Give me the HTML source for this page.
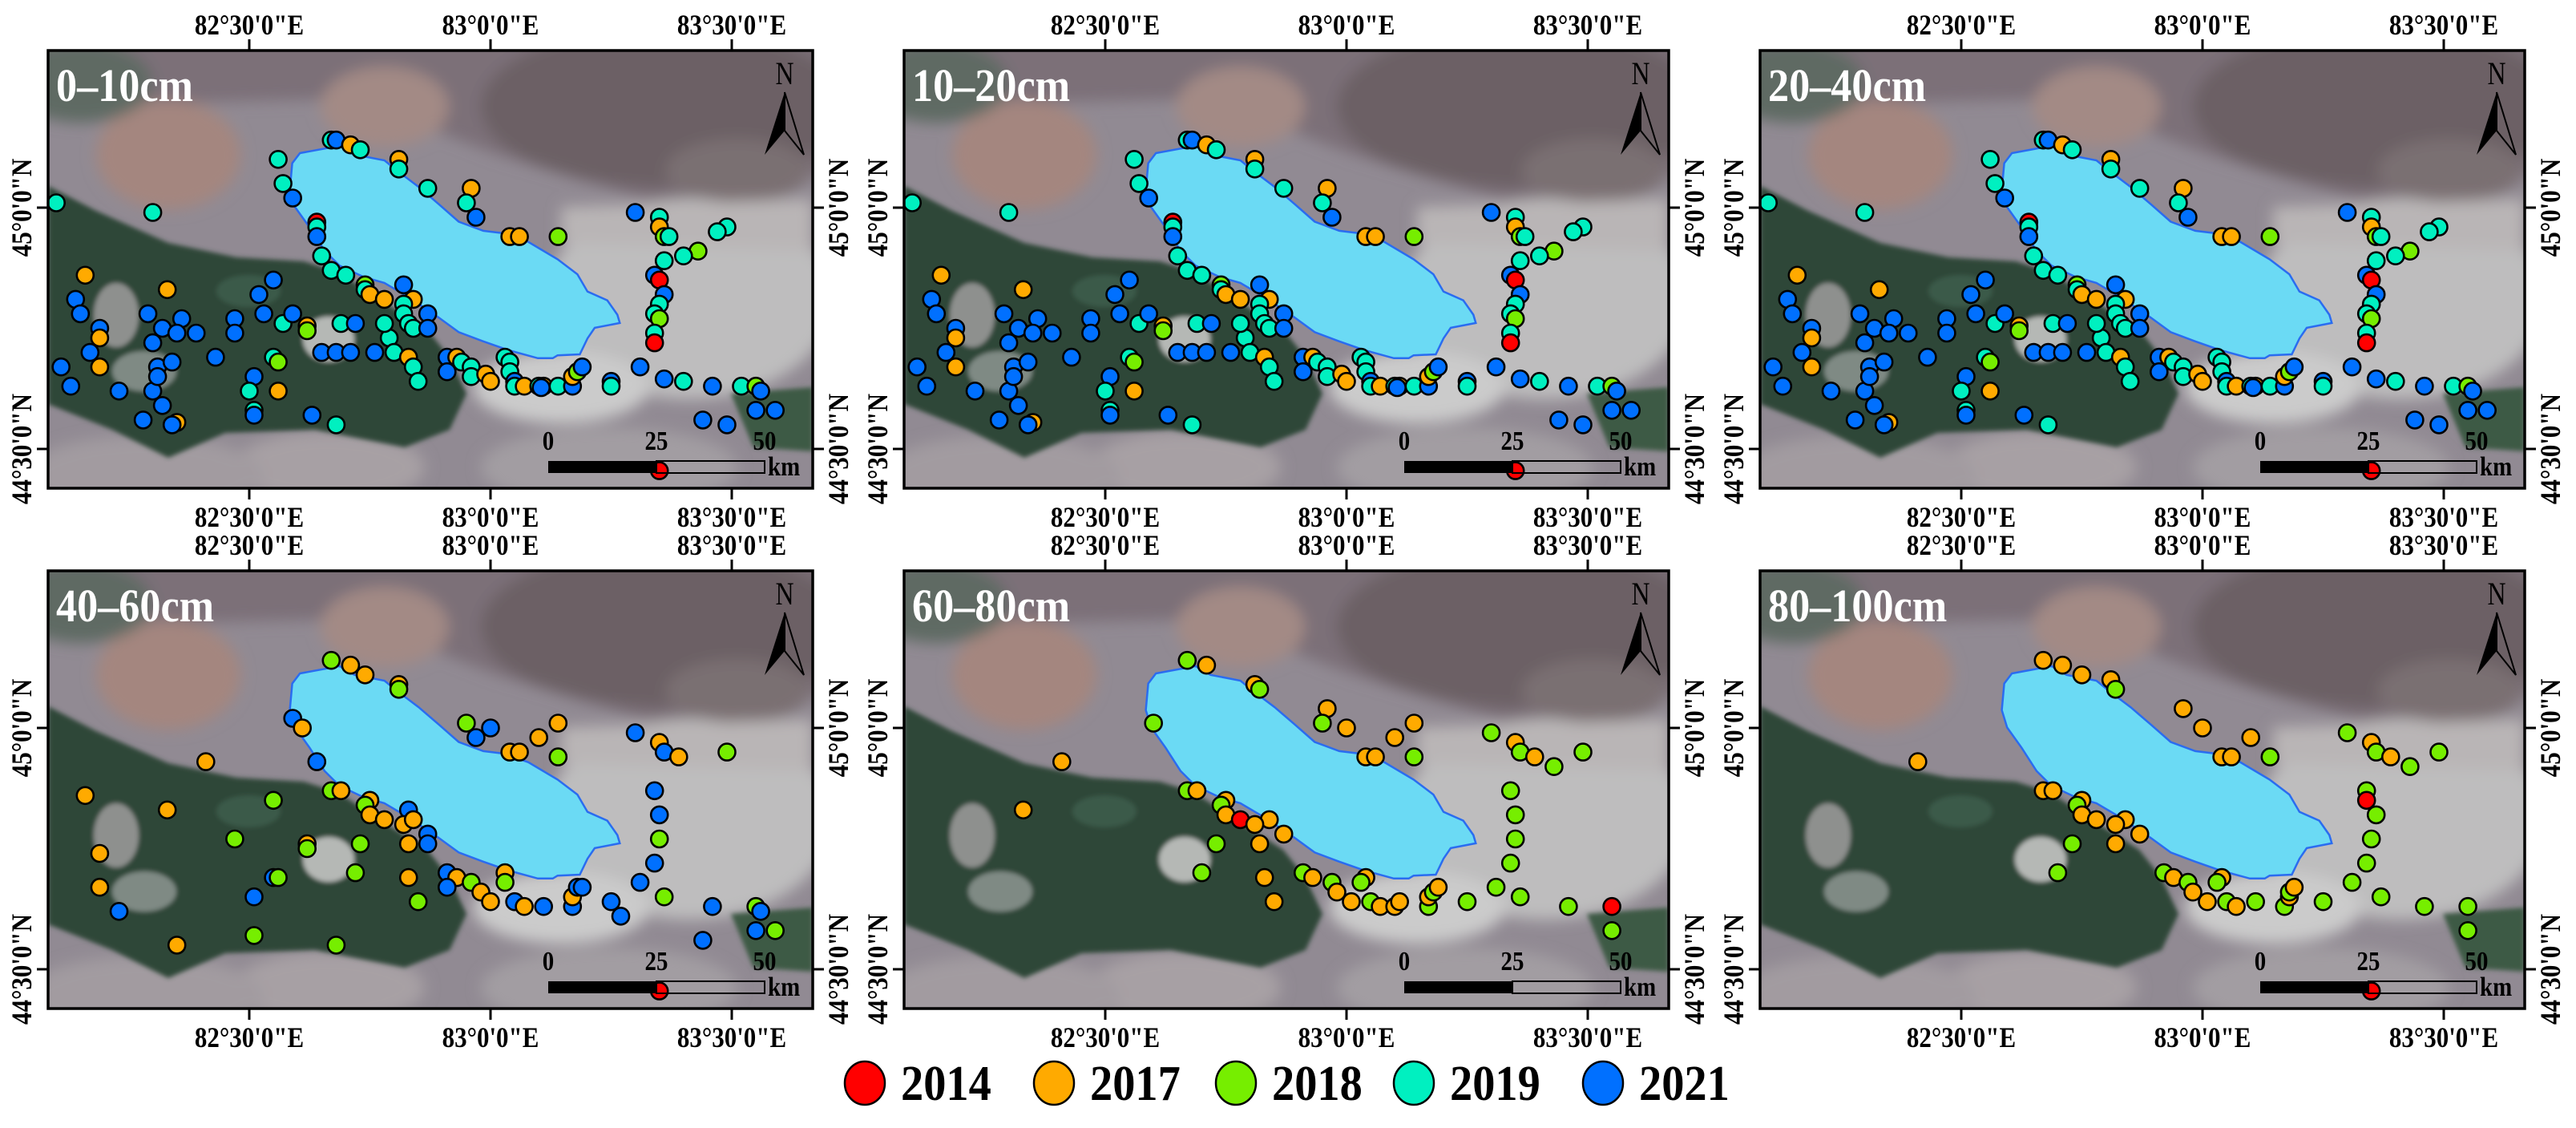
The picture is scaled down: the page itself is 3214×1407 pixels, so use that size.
<!DOCTYPE html>
<html>
<head>
<meta charset="utf-8">
<style>
  html,body{margin:0;padding:0;background:#fff;}
  body{width:3214px;height:1407px;overflow:hidden;position:relative;font-family:"Liberation Serif",serif;}
  svg{position:absolute;left:0;top:0;}
  text{font-family:"Liberation Serif",serif;font-weight:bold;}
</style>
</head>
<body>
<svg id="fig" width="3214" height="1407" viewBox="0 0 3214 1407" xmlns="http://www.w3.org/2000/svg">
  <defs>
    <filter id="soft" x="-10%" y="-10%" width="120%" height="120%"><feGaussianBlur stdDeviation="9"/></filter>
    <filter id="soft2" x="-10%" y="-10%" width="120%" height="120%"><feGaussianBlur stdDeviation="3"/></filter>
  </defs>
  <g id="panels"></g>
  <g id="legend"></g>
</svg>
<script>
// ---- chart data (lon, lat, sampling year) ----
const panelTitles = ["0–10cm","10–20cm","20–40cm","40–60cm","60–80cm","80–100cm"];
const legendYears = [2014, 2017, 2018, 2019, 2021];
const lonTicks = [82.5, 83.0, 83.5];
const lonTickLabels = ["82°30'0\"E","83°0'0\"E","83°30'0\"E"];
const latTicks = [45.0, 44.5];
const latTickLabels = ["45°0'0\"N","44°30'0\"N"];
const scaleLabels = ["0","25","50"];

const topPts = [
 [82.67,45.14,2019],[82.68,45.14,2021],[82.71,45.13,2017],[82.73,45.12,2019],[82.56,45.10,2019],[82.81,45.10,2017],
 [82.81,45.08,2019],[82.57,45.05,2019],[82.87,45.04,2019],[82.96,45.04,2017],[82.95,45.01,2019],[82.59,45.02,2021],
 [82.97,44.98,2021],[82.64,44.97,2014],[82.64,44.96,2019],[82.64,44.94,2021],[83.04,44.94,2017],[83.06,44.94,2017],
 [83.14,44.94,2018],[82.65,44.90,2019],[82.67,44.87,2019],[82.70,44.86,2019],[82.74,44.84,2018],[82.74,44.83,2019],
 [82.75,44.82,2017],[82.78,44.81,2017],[82.82,44.84,2021],[82.84,44.81,2017],[82.82,44.80,2019],[82.82,44.78,2019],
 [82.87,44.78,2021],[82.83,44.76,2019],[82.84,44.75,2019],[82.87,44.75,2021],[82.79,44.73,2019],[82.78,44.76,2019],
 [82.69,44.76,2019],[82.72,44.76,2021],[82.57,44.76,2019],[82.62,44.755,2017],[82.62,44.745,2018],
 [83.30,44.99,2021],[83.35,44.98,2019],[83.35,44.96,2017],[83.36,44.94,2018],[83.37,44.94,2019],[83.49,44.96,2019],
 [83.47,44.95,2019],[83.43,44.91,2018],[83.40,44.90,2019],[83.36,44.89,2019],[83.34,44.86,2021],[83.35,44.85,2014],
 [83.36,44.82,2021],[83.35,44.80,2019],[83.34,44.78,2019],[83.35,44.77,2018],[83.34,44.74,2019],[83.34,44.72,2014],
 [82.10,45.01,2019],[82.30,44.99,2019],
 [82.16,44.86,2017],[82.33,44.83,2017],[82.55,44.85,2021],[82.52,44.82,2021],[82.14,44.81,2021],[82.15,44.78,2021],
 [82.29,44.78,2021],[82.36,44.77,2021],[82.32,44.75,2021],[82.35,44.74,2021],[82.39,44.74,2021],[82.47,44.77,2021],
 [82.47,44.74,2021],[82.53,44.78,2021],[82.59,44.78,2021],[82.19,44.75,2021],[82.19,44.73,2017],[82.17,44.70,2021],
 [82.30,44.72,2021],[82.43,44.69,2021],[82.65,44.70,2021],[82.68,44.70,2021],[82.71,44.70,2021],[82.76,44.70,2021],
 [82.80,44.70,2019],[82.83,44.69,2017],[82.55,44.69,2019],[82.56,44.68,2018],[82.31,44.67,2021],[82.34,44.68,2021],
 [82.11,44.67,2021],[82.19,44.67,2017],[82.84,44.67,2019],[82.85,44.64,2019],[82.51,44.65,2021],[82.50,44.62,2019],
 [82.56,44.62,2017],[82.13,44.63,2021],[82.23,44.62,2021],[82.30,44.62,2021],[82.31,44.65,2021],[82.32,44.59,2021],
 [82.51,44.58,2019],[82.51,44.57,2021],[82.63,44.57,2021],[82.68,44.55,2019],[82.28,44.56,2021],[82.35,44.555,2017],[82.34,44.55,2021],
 [82.91,44.69,2021],[82.91,44.66,2021],[82.93,44.69,2017],[82.94,44.68,2019],[82.96,44.67,2019],[82.96,44.65,2019],
 [82.99,44.655,2017],[83.00,44.64,2017],[83.03,44.69,2019],[83.04,44.68,2019],[83.04,44.66,2019],[83.05,44.64,2021],
 [83.05,44.63,2019],[83.07,44.63,2017],[83.10,44.63,2019],[83.11,44.63,2017],[83.105,44.627,2021],[83.14,44.63,2019],
 [83.17,44.63,2021],[83.17,44.65,2017],[83.18,44.66,2018],[83.19,44.67,2021],[83.25,44.64,2021],[83.25,44.63,2019],
 [83.31,44.67,2021],[83.36,44.645,2021],[83.40,44.64,2019],[83.46,44.63,2021],[83.52,44.63,2019],[83.55,44.63,2018],
 [83.56,44.62,2021],[83.55,44.58,2021],[83.59,44.58,2021],[83.44,44.56,2021],[83.49,44.55,2021],[83.35,44.455,2014]
];

const pts4060 = [
 [82.67,45.14,2018],[82.71,45.13,2017],[82.74,45.11,2017],[82.81,45.09,2017],[82.81,45.08,2018],[82.59,45.02,2021],
 [82.61,45.00,2017],[82.95,45.01,2018],[83.00,45.00,2021],[82.97,44.98,2021],[83.10,44.98,2017],[83.14,45.01,2017],
 [83.04,44.95,2017],[83.06,44.95,2017],[83.14,44.94,2018],[83.30,44.99,2021],[83.35,44.97,2017],[83.36,44.95,2021],
 [83.39,44.94,2017],[83.49,44.95,2018],[82.41,44.93,2017],[82.64,44.93,2021],[82.67,44.87,2018],[82.69,44.87,2017],
 [82.75,44.85,2017],[82.74,44.84,2018],[82.75,44.82,2017],[82.78,44.81,2017],[82.83,44.83,2021],[82.82,44.80,2017],
 [82.84,44.81,2017],[82.83,44.76,2017],[82.87,44.78,2021],[82.87,44.76,2021],[82.16,44.86,2017],[82.33,44.83,2017],
 [82.55,44.85,2018],[82.47,44.77,2018],[82.62,44.76,2017],[82.62,44.75,2018],[82.73,44.76,2018],[82.19,44.74,2017],
 [82.19,44.67,2017],[82.72,44.70,2018],[82.55,44.69,2021],[82.56,44.69,2018],[82.83,44.69,2017],[82.51,44.65,2021],
 [82.23,44.62,2021],[82.85,44.64,2018],[82.35,44.55,2017],[82.51,44.57,2018],[82.68,44.55,2018],
 [83.34,44.87,2021],[83.35,44.82,2021],[83.35,44.77,2018],[83.34,44.72,2021],[83.31,44.68,2021],[83.36,44.65,2018],
 [82.91,44.70,2021],[82.93,44.69,2017],[82.91,44.67,2021],[82.96,44.68,2018],[82.98,44.66,2017],[83.00,44.64,2017],
 [83.03,44.70,2017],[83.03,44.68,2018],[83.05,44.64,2021],[83.07,44.63,2017],[83.11,44.63,2021],[83.17,44.63,2021],
 [83.17,44.65,2017],[83.18,44.67,2021],[83.19,44.67,2021],[83.25,44.64,2021],[83.27,44.61,2021],[83.46,44.63,2021],
 [83.55,44.63,2018],[83.56,44.62,2021],[83.55,44.58,2021],[83.59,44.58,2018],[83.44,44.56,2021],[83.35,44.455,2014]
];

const pts6080 = [
 [82.67,45.14,2018],[82.71,45.13,2017],[82.81,45.09,2017],[82.82,45.08,2018],[82.60,45.01,2018],[82.96,45.04,2017],
 [82.95,45.01,2018],[83.00,45.00,2017],[83.14,45.01,2017],[83.10,44.98,2017],[83.04,44.94,2017],[83.06,44.94,2017],
 [83.14,44.94,2018],[83.30,44.99,2018],[83.35,44.97,2017],[83.36,44.95,2018],[83.39,44.94,2017],[83.49,44.95,2018],
 [83.43,44.92,2018],[82.41,44.93,2017],[82.67,44.87,2018],[82.69,44.87,2017],[82.75,44.85,2017],[82.74,44.84,2018],
 [82.75,44.82,2017],[82.78,44.81,2014],[82.84,44.81,2017],[82.81,44.80,2017],[82.87,44.78,2017],[82.82,44.76,2017],
 [82.33,44.83,2017],[82.73,44.76,2018],[82.70,44.70,2018],[82.83,44.69,2017],[82.85,44.64,2017],[82.91,44.70,2018],
 [82.93,44.69,2017],[82.97,44.68,2018],[82.98,44.66,2017],[83.01,44.64,2017],[83.04,44.69,2017],[83.03,44.68,2018],
 [83.05,44.64,2018],[83.07,44.63,2017],[83.10,44.63,2017],[83.11,44.64,2017],[83.17,44.63,2018],[83.17,44.65,2017],
 [83.18,44.66,2018],[83.19,44.67,2017],[83.25,44.64,2018],[83.34,44.87,2018],[83.35,44.82,2018],[83.35,44.77,2018],
 [83.34,44.72,2018],[83.31,44.67,2018],[83.36,44.65,2018],[83.46,44.63,2018],[83.55,44.63,2014],[83.55,44.58,2018]
];

const pts80100 = [
 [82.67,45.14,2017],[82.71,45.13,2017],[82.75,45.11,2017],[82.81,45.10,2017],[82.82,45.08,2018],[82.96,45.04,2017],
 [83.00,45.00,2017],[83.10,44.98,2017],[83.04,44.94,2017],[83.06,44.94,2017],[83.14,44.94,2018],[83.30,44.99,2018],
 [83.35,44.97,2017],[83.36,44.95,2018],[83.39,44.94,2017],[83.49,44.95,2018],[83.43,44.92,2018],[82.41,44.93,2017],
 [82.67,44.87,2017],[82.69,44.87,2017],[82.75,44.85,2017],[82.74,44.84,2018],[82.75,44.82,2017],[82.78,44.81,2017],
 [82.84,44.81,2017],[82.82,44.80,2017],[82.87,44.78,2017],[82.82,44.76,2017],[82.73,44.76,2018],[82.70,44.70,2018],
 [82.92,44.70,2018],[82.94,44.69,2017],[82.97,44.68,2018],[82.98,44.66,2017],[83.01,44.64,2017],[83.04,44.69,2017],
 [83.03,44.68,2018],[83.05,44.64,2018],[83.07,44.63,2017],[83.11,44.64,2018],[83.17,44.63,2018],[83.18,44.65,2017],
 [83.18,44.66,2018],[83.19,44.67,2017],[83.25,44.64,2018],[83.34,44.87,2018],[83.34,44.85,2014],[83.36,44.82,2018],
 [83.35,44.77,2018],[83.34,44.72,2018],[83.31,44.68,2018],[83.37,44.65,2018],[83.46,44.63,2018],[83.55,44.63,2018],
 [83.55,44.58,2018],[83.35,44.455,2014]
];

const panelPoints = [topPts, topPts, topPts, pts4060, pts6080, pts80100];

const lakeOutline = [
 [82.605,45.113],[82.687,45.128],[82.718,45.110],[82.780,45.098],[82.810,45.074],[82.851,45.043],[82.893,45.007],
 [82.934,44.971],[82.985,44.952],[83.026,44.947],[83.078,44.929],[83.139,44.893],[83.180,44.862],[83.201,44.826],
 [83.242,44.808],[83.263,44.778],[83.268,44.761],[83.216,44.751],[83.201,44.729],[83.185,44.696],[83.139,44.694],
 [83.129,44.688],[83.098,44.688],[83.036,44.705],[82.985,44.723],[82.934,44.742],[82.893,44.772],[82.831,44.814],
 [82.780,44.844],[82.738,44.856],[82.687,44.880],[82.656,44.911],[82.625,44.959],[82.595,45.001],[82.584,45.037],[82.589,45.092]
];

// ---- layout ----
const NS = "http://www.w3.org/2000/svg";
const PW = 954, PH = 546;
const origins = [[60,63],[1128,63],[2196,63],[60,712],[1128,712],[2196,712]];
const yearColor = {2014:"#ff0000",2017:"#ffaa00",2018:"#76ee00",2019:"#00f0c0",2021:"#0070ff"};
const DEG = 602;
function xScale(lon){ return 251 + (lon - 82.5) * DEG; }
function yScale(lat){ return 196 - (lat - 45.0) * DEG; }

function mk(tag, attrs, parent){
  const e = document.createElementNS(NS, tag);
  for (const k in attrs) e.setAttribute(k, attrs[k]);
  if (parent) parent.appendChild(e);
  return e;
}
// condensed text: placed at (x,y), optional rotation, horizontal squeeze sx
function ctext(parent, str, x, y, size, anchor, sx, rot, fill){
  const tr = "translate(" + x + "," + y + ")" + (rot ? " rotate(" + rot + ")" : "") + " scale(" + sx + ",1)";
  const t = mk("text", {x:0, y:0, "text-anchor":anchor, "font-size":size, fill:fill || "#000", transform:tr}, parent);
  t.textContent = str;
  return t;
}

const panelsG = document.getElementById("panels");

function drawBackground(g, idx){
  const clipId = "clip" + idx;
  const cp = mk("clipPath", {id: clipId}, g);
  mk("rect", {x:0, y:0, width:PW, height:PH}, cp);
  const bg = mk("g", {"clip-path":"url(#"+clipId+")"}, g);
  
  
  mk("rect", {x:0,y:0,width:PW,height:PH,fill:"#918a93"}, bg);
  const soft = mk("g", {filter:"url(#soft)"}, bg);
  mk("polygon", {points:"-40,-40 1000,-40 1000,150 760,190 560,130 380,60 -40,70", fill:"#7b6f78"}, soft);
  mk("ellipse", {cx:770, cy:70, rx:230, ry:100, fill:"#6c6065"}, soft);
  mk("ellipse", {cx:860, cy:150, rx:90, ry:40, fill:"#7a6f72"}, soft);
  mk("ellipse", {cx:420, cy:70, rx:80, ry:50, fill:"#a38a85"}, soft);
  mk("ellipse", {cx:150, cy:130, rx:90, ry:68, fill:"#a4867f"}, soft);
  mk("ellipse", {cx:40, cy:40, rx:90, ry:50, fill:"#5f6a63"}, soft);
  mk("ellipse", {cx:800, cy:310, rx:180, ry:125, fill:"#bebdbe"}, soft);
  mk("polygon", {points:"640,195 954,185 954,250 640,240", fill:"#b9b5b6"}, soft);
  mk("ellipse", {cx:640, cy:420, rx:110, ry:45, fill:"#cbcbcb"}, soft);
  mk("ellipse", {cx:380, cy:345, rx:55, ry:38, fill:"#cecece"}, soft);
  mk("ellipse", {cx:350, cy:520, rx:120, ry:45, fill:"#a7a0a4"}, soft);
  mk("ellipse", {cx:120, cy:530, rx:150, ry:50, fill:"#a29ba0"}, soft);
  mk("ellipse", {cx:700, cy:520, rx:160, ry:50, fill:"#a29da2"}, soft);
  const soft2 = mk("g", {filter:"url(#soft2)"}, bg);
  mk("polygon", {points:"0,169 60,200 150,240 235,258 319,263 361,276 417,312 473,348 501,383 522,428 501,473 445,495 333,473 221,477 150,508 80,473 0,441",
    fill:"#2d4739"}, soft2);
  mk("polygon", {points:"852,428 954,420 954,500 880,495", fill:"#3c5a45"}, soft2);
  mk("ellipse", {cx:85, cy:330, rx:28, ry:40, fill:"#8e908e"}, soft2);
  mk("ellipse", {cx:350, cy:360, rx:32, ry:28, fill:"#b5b8b5"}, soft2);
  mk("ellipse", {cx:250, cy:300, rx:40, ry:20, fill:"#3a5a48"}, soft2);
  mk("ellipse", {cx:120, cy:400, rx:40, ry:25, fill:"#7f8a84"}, soft2);
}

origins.forEach((o, idx) => {
  const [px, py] = o;
  const pg = mk("g", {transform:"translate("+px+","+py+")"}, panelsG);
  
  
  drawBackground(pg, idx);

  const lake = mk("polygon", {points: lakeOutline.map(p => xScale(p[0]).toFixed(1)+","+yScale(p[1]).toFixed(1)).join(" "),
    fill:"#6bdaf4", stroke:"#2a6cf0", "stroke-width":2.5}, pg);
  
  

  const ptsG = mk("g", {}, pg);
  
  
  panelPoints[idx].forEach(p => {
    const c = mk("circle", {cx:xScale(p[0]).toFixed(1), cy:yScale(p[1]).toFixed(1), r:10.5,
      fill:yearColor[p[2]], stroke:"#000", "stroke-width":2.6}, ptsG);
    
    
  });

  const t = ctext(pg, panelTitles[idx], 10, 63, 58, "start", 0.9, 0, "#fff");
  
  

  const na = mk("g", {}, pg);
  
  
  const nt = ctext(na, "N", 919, 42, 40, "middle", 0.8, 0, "#000");
  nt.style.fontWeight = "normal";
  mk("polygon", {points:"919,52 894,130 919,100", fill:"#000"}, na);
  mk("polygon", {points:"919,52 943,130 919,100", fill:"none", stroke:"#000", "stroke-width":2}, na);

  const sb = mk("g", {}, pg);
  
  
  mk("rect", {x:624, y:512, width:135, height:15, fill:"#000"}, sb);
  mk("rect", {x:759, y:512, width:135, height:15, fill:"none", stroke:"#000", "stroke-width":2}, sb);
  [624, 759, 894].forEach((sx, i) => { ctext(sb, scaleLabels[i], sx, 498, 34, "middle", 0.85, 0, "#000"); });
  ctext(sb, "km", 898, 530, 34, "start", 0.85, 0, "#000");

  const fr = mk("rect", {x:0, y:0, width:PW, height:PH, fill:"none", stroke:"#000", "stroke-width":3.5}, pg);
  
  

  lonTicks.forEach((lon, i) => {
    const x = xScale(lon);
    mk("line", {x1:x, y1:-14, x2:x, y2:0, stroke:"#000", "stroke-width":3}, pg);
    mk("line", {x1:x, y1:PH, x2:x, y2:PH+14, stroke:"#000", "stroke-width":3}, pg);
    const tt = ctext(pg, lonTickLabels[i], x, -20, 36, "middle", 0.86, 0, "#000");
    
    
    const tb = ctext(pg, lonTickLabels[i], x, PH+48, 36, "middle", 0.86, 0, "#000");
    
    
  });
  latTicks.forEach((lat, i) => {
    const y = yScale(lat);
    mk("line", {x1:-14, y1:y, x2:0, y2:y, stroke:"#000", "stroke-width":3}, pg);
    mk("line", {x1:PW, y1:y, x2:PW+14, y2:y, stroke:"#000", "stroke-width":3}, pg);
    const tl = ctext(pg, latTickLabels[i], -21, y, 36, "middle", 0.86, -90, "#000");
    
    
    const tr = ctext(pg, latTickLabels[i], PW+44, y, 36, "middle", 0.86, -90, "#000");
    
    
  });
});

const lg = document.getElementById("legend");
const legendCx = [1079, 1315, 1542, 1764, 2000];
legendYears.forEach((yr, i) => {
  const eg = mk("g", {}, lg);
  
  
  mk("ellipse", {cx:legendCx[i], cy:1351, rx:25, ry:27, fill:yearColor[yr], stroke:"#000", "stroke-width":2.5}, eg);
  ctext(eg, String(yr), legendCx[i]+45, 1372, 62, "start", 0.91, 0, "#000");
});
</script>
</body>
</html>
